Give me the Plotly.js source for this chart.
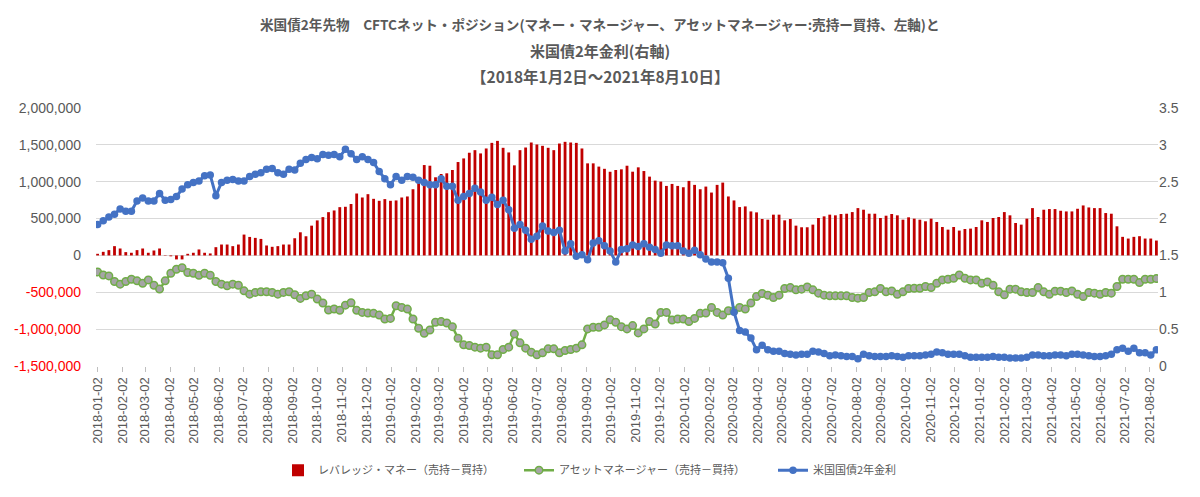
<!DOCTYPE html>
<html>
<head>
<meta charset="utf-8">
<script src="https://cdn.plot.ly/plotly-3.0.1.min.js"></script>
<style>
  html, body { margin: 0; padding: 0; background: #ffffff; }
  #chart { width: 1200px; height: 497px; }
</style>
</head>
<body>
<div id="chart"></div>
<script>
// ---- data ----
const startDate = '2018-01-02';   // first weekly observation (Tuesday)

// レバレッジ・マネー (売持－買持)
const leveragedMoney = [
  22000, 49000, 72000, 126000, 94000, 45000, 36000, 72000, 94000, 36000,
  67000, 94000, 5000, -12000, -54000, -54000, 22000, 36000, 81000, 36000,
  27000, 112000, 148000, 148000, 126000, 148000, 283000, 251000, 238000, 224000,
  135000, 117000, 126000, 148000, 148000, 233000, 314000, 260000, 404000, 475000,
  520000, 587000, 610000, 655000, 660000, 698000, 840000,
  786000, 831000, 768000, 741000, 764000, 741000, 746000, 786000, 800000, 898000,
  979000, 1226000, 1217000, 1060000, 1105000, 1114000, 1159000, 1267000, 1316000, 1393000,
  1428000, 1384000, 1451000, 1527000, 1554000, 1460000, 1397000, 1222000, 1428000, 1464000,
  1532000, 1505000, 1487000, 1460000, 1428000, 1518000, 1541000, 1532000, 1527000, 1451000,
  1249000, 1249000, 1205000, 1175000, 1135000, 1159000,
  1168000, 1217000, 1136000, 1195000, 1145000, 1069000, 1015000, 1002000, 943000, 970000,
  943000, 925000, 1011000, 957000, 898000, 934000, 853000, 957000, 988000, 800000,
  746000, 656000, 665000, 597000, 584000, 494000, 485000, 553000, 553000, 476000,
  494000, 404000, 382000, 382000, 418000, 508000, 530000, 553000, 544000, 562000,
  566000, 588000, 642000, 620000, 566000, 566000,
  508000, 539000, 562000, 544000, 485000, 517000, 499000, 485000, 463000, 499000,
  454000, 386000, 350000, 386000, 337000, 359000, 364000, 386000, 476000, 454000,
  508000, 521000, 588000, 544000, 440000, 418000, 499000, 642000, 521000, 620000,
  629000, 629000, 606000, 597000, 597000, 633000, 678000, 651000, 642000, 642000,
  575000, 566000, 395000, 252000, 229000, 252000, 261000, 229000, 229000, 202000
];

// アセットマネージャー (売持－買持)
const assetManager = [
  -224000, -265000, -278000, -354000, -390000, -354000, -323000, -345000, -377000, -332000,
  -404000, -457000, -345000, -242000, -188000, -166000, -233000, -242000, -269000, -242000,
  -269000, -354000, -390000, -413000, -390000, -404000, -480000, -525000, -502000, -493000,
  -493000, -502000, -525000, -502000, -493000, -534000, -583000, -547000, -525000, -592000,
  -646000, -740000, -726000, -743000, -675000, -642000, -745000,
  -773000, -782000, -786000, -809000, -863000, -854000, -683000, -705000, -728000, -863000,
  -988000, -1056000, -1011000, -907000, -898000, -916000, -966000, -1123000, -1213000, -1222000,
  -1244000, -1258000, -1244000, -1348000, -1348000, -1276000, -1244000, -1065000, -1186000, -1258000,
  -1312000, -1348000, -1321000, -1267000, -1267000, -1321000, -1289000, -1276000, -1258000, -1213000,
  -997000, -975000, -975000, -943000, -874000, -907000,
  -966000, -997000, -952000, -1051000, -997000, -898000, -930000, -773000, -773000, -876000,
  -863000, -863000, -898000, -854000, -786000, -782000, -705000, -773000, -809000, -750000,
  -750000, -705000, -728000, -647000, -557000, -517000, -539000, -571000, -539000, -449000,
  -436000, -467000, -458000, -427000, -467000, -512000, -539000, -548000, -548000, -548000,
  -548000, -571000, -580000, -571000, -503000, -494000,
  -449000, -494000, -481000, -526000, -494000, -449000, -445000, -445000, -422000, -436000,
  -377000, -332000, -323000, -310000, -265000, -310000, -332000, -332000, -377000, -359000,
  -404000, -494000, -535000, -458000, -458000, -494000, -503000, -503000, -436000, -494000,
  -526000, -485000, -485000, -503000, -481000, -526000, -557000, -503000, -512000, -526000,
  -503000, -512000, -422000, -323000, -323000, -323000, -368000, -323000, -323000, -314000
];

// 米国国債2年金利 (%)
const yield2y = [
  1.92, 1.97, 2.02, 2.06, 2.13, 2.10, 2.10, 2.24, 2.28, 2.24,
  2.24, 2.34, 2.25, 2.26, 2.30, 2.40, 2.46, 2.49, 2.51, 2.58,
  2.59, 2.31, 2.49, 2.52, 2.53, 2.51, 2.51, 2.57, 2.60, 2.62,
  2.67, 2.68, 2.62, 2.60, 2.67, 2.66, 2.75, 2.80, 2.83, 2.81,
  2.87, 2.86, 2.87, 2.84, 2.94, 2.88, 2.80,
  2.84, 2.80, 2.76, 2.64, 2.54, 2.46, 2.57, 2.52, 2.57, 2.56,
  2.52, 2.49, 2.46, 2.46, 2.54, 2.44, 2.44, 2.25, 2.30, 2.34,
  2.41, 2.36, 2.25, 2.29, 2.19, 2.25, 2.12, 1.87, 1.92, 1.84,
  1.72, 1.76, 1.90, 1.83, 1.81, 1.84, 1.56, 1.66, 1.49, 1.51,
  1.44, 1.67, 1.70, 1.63, 1.56, 1.41,
  1.58, 1.59, 1.64, 1.62, 1.66, 1.61, 1.58, 1.53, 1.64, 1.63,
  1.63, 1.56, 1.53, 1.57, 1.51, 1.45, 1.41, 1.41, 1.40, 1.19,
  0.73, 0.48, 0.46, 0.38, 0.22, 0.28, 0.22, 0.20, 0.20, 0.17,
  0.16, 0.15, 0.16, 0.16, 0.20, 0.19, 0.17, 0.14, 0.15, 0.14,
  0.13, 0.13, 0.10, 0.16, 0.14, 0.13,
  0.13, 0.13, 0.14, 0.13, 0.12, 0.14, 0.14, 0.14, 0.15, 0.16,
  0.19, 0.18, 0.16, 0.16, 0.16, 0.14, 0.12, 0.12, 0.12, 0.12,
  0.13, 0.12, 0.12, 0.11, 0.11, 0.11, 0.12, 0.15, 0.15, 0.14,
  0.14, 0.15, 0.15, 0.14, 0.16, 0.16, 0.15, 0.14, 0.13, 0.13,
  0.14, 0.16, 0.22, 0.24, 0.20, 0.24, 0.18, 0.18, 0.15, 0.22
];

// left axis ticks
const leftTickVals = [2000000, 1500000, 1000000, 500000, 0, -500000, -1000000, -1500000];
const leftTickText = ['2,000,000', '1,500,000', '1,000,000', '500,000', '0',
  '<span style="color:#ff0000">-500,000</span>',
  '<span style="color:#ff0000">-1,000,000</span>',
  '<span style="color:#ff0000">-1,500,000</span>'];

const seriesNames = ['レバレッジ・マネー（売持－買持）', 'アセットマネージャー（売持－買持）', '米国国債2年金利'];
const titleLines = [
  '米国債2年先物\u3000CFTCネット・ポジション(マネー・マネージャー、アセットマネージャー:売持ー買持、左軸)と',
  '米国債2年金利(右軸)',
  '【2018年1月2日～2021年8月10日】'
];

// weekly dates
const dates = [];
{
  const p = startDate.split('-').map(Number);
  for (let i = 0; i < leveragedMoney.length; i++) {
    const d = new Date(Date.UTC(p[0], p[1] - 1, p[2] + 7 * i));
    dates.push(d.toISOString().slice(0, 10));
  }
}

const gray = '#595959';
const font = '"Noto Sans CJK JP", "Noto Sans", sans-serif';
const numFont = '"Liberation Sans", Arial, sans-serif';

const traces = [
  {
    type: 'bar', name: seriesNames[0], x: dates, y: leveragedMoney,
    marker: { color: '#c00000' }, yaxis: 'y', legend: 'legend'
  },
  {
    type: 'scatter', mode: 'lines+markers', name: seriesNames[1], x: dates, y: assetManager,
    line: { color: '#70ad47', width: 2.5 },
    marker: { color: '#a5a5a5', size: 7.5, line: { color: '#70ad47', width: 1.5 } },
    yaxis: 'y', legend: 'legend2'
  },
  {
    type: 'scatter', mode: 'lines+markers', name: seriesNames[2], x: dates, y: yield2y,
    line: { color: '#4472c4', width: 3 },
    marker: { color: '#4472c4', size: 7.5 },
    yaxis: 'y2', legend: 'legend3'
  }
];

const L = 96, R = 42, T = 108, B = 129;
const plotH = 497 - T - B, plotW = 1200 - L - R;
const py = (pix) => (497 - B - pix) / plotH;
const px = (pix) => (pix - L) / plotW;

const legendBase = (xpix) => ({
  orientation: 'h', x: px(xpix), xanchor: 'left', y: py(473), yanchor: 'middle',
  font: { family: font, size: 11, color: gray }, itemwidth: 30,
  bgcolor: 'rgba(0,0,0,0)', borderwidth: 0
});

const layout = {
  width: 1200, height: 497,
  margin: { l: L, r: R, t: T, b: B, pad: 0 },
  paper_bgcolor: '#ffffff', plot_bgcolor: '#ffffff',
  font: { family: font, color: gray, size: 12 },
  showlegend: true,
  bargap: 0.5,
  xaxis: {
    type: 'date',
    range: ['2017-12-31', '2021-08-12'],
    tick0: '2018-01-02', dtick: 'M1', tickformat: '%Y-%m-%d',
    tickangle: -90,
    tickfont: { family: numFont, size: 13, color: gray },
    ticks: 'outside', ticklen: 5, tickcolor: '#bfbfbf',
    showgrid: false, zeroline: false, showline: false
  },
  yaxis: {
    range: [-1500000, 2000000],
    tickvals: leftTickVals, ticktext: leftTickText,
    tickfont: { family: numFont, size: 14, color: gray },
    showgrid: true, gridcolor: '#d9d9d9', gridwidth: 1,
    zeroline: false, showline: false, ticks: '', ticklabelstandoff: 14
  },
  yaxis2: {
    range: [0, 3.5], dtick: 0.5, tick0: 0,
    overlaying: 'y', side: 'right',
    tickfont: { family: numFont, size: 14, color: gray },
    showgrid: false, zeroline: false, showline: false, ticks: ''
  },
  legend: legendBase(278),
  legend2: legendBase(519),
  legend3: legendBase(773),
  annotations: [
    { text: '<b>' + titleLines[0] + '</b>', xref: 'paper', yref: 'paper', x: px(600), y: py(23),
      xanchor: 'center', yanchor: 'middle', showarrow: false, font: { family: font, size: 13.6, color: gray } },
    { text: '<b>' + titleLines[1] + '</b>', xref: 'paper', yref: 'paper', x: px(600), y: py(50),
      xanchor: 'center', yanchor: 'middle', showarrow: false, font: { family: font, size: 15, color: gray } },
    { text: '<b>' + titleLines[2] + '</b>', xref: 'paper', yref: 'paper', x: px(600), y: py(76),
      xanchor: 'center', yanchor: 'middle', showarrow: false, font: { family: font, size: 15.5, color: gray } }
  ]
};

Plotly.newPlot('chart', traces, layout, { staticPlot: true, displayModeBar: false });
</script>
</body>
</html>
